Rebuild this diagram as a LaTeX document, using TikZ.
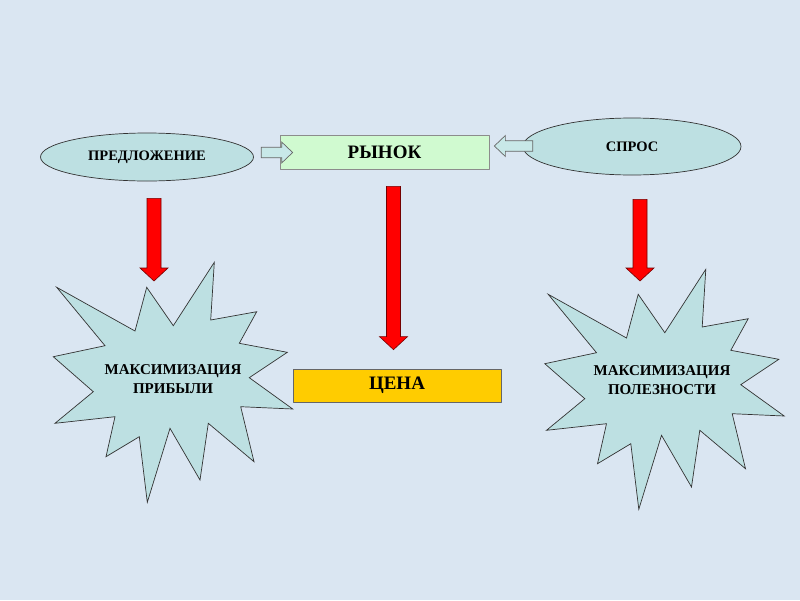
\documentclass[tikz,border=0pt]{standalone}
\usepackage{fontspec}
\setmainfont{Liberation Serif}
\usetikzlibrary{positioning,calc,shapes.geometric}

\definecolor{bgblue}{RGB}{218,230,242}
\definecolor{tealfill}{RGB}{189,224,226}
\definecolor{mintfill}{RGB}{208,250,208}
\definecolor{goldfill}{RGB}{255,204,0}
\definecolor{arrowfill}{RGB}{200,232,232}

\tikzset{
  oval/.style={ellipse, draw=black!80, fill=tealfill, inner sep=0pt, line width=0.7pt,
    font=\bfseries\fontsize{14.5}{16}\selectfont},
  box/.style={rectangle, draw=black!45, inner sep=0pt, line width=0.7pt,
    font=\bfseries\fontsize{19}{22}\selectfont},
  burst/.style={draw=black!80, fill=tealfill, line width=0.7pt, line join=miter},
  bursttext/.style={align=center, font=\bfseries\fontsize{15}{18.5}\selectfont},
  redarrow/.style={draw=red!45!black, fill=red, line width=0.6pt, line join=miter},
  hollowarrow/.style={draw=black!60, fill=arrowfill, line width=0.7pt, line join=miter},
}

% explosion outline, relative to its middle
\newcommand{\burstpath}{(-116.3,-91.7) -- (-38,-48) -- (-26.3,-91.7) -- (0.3,-53.3)
  -- (41.3,-116.7) -- (37.7,-59) -- (83.7,-67.3) -- (66.3,-35.7) -- (114.3,-26.7)
  -- (76.3,-1.3) -- (119.7,30) -- (67.7,27.7) -- (81,82.7) -- (35.3,44.3) -- (27,101)
  -- (-3,49.3) -- (-25.7,123.3) -- (-33.7,57.7) -- (-67,77.7) -- (-58,37.7)
  -- (-118,44.3) -- (-79.7,12.7) -- (-119.7,-22.3) -- (-68,-33.3) -- cycle}

% vertical block arrow: style, tail, tip
\newcommand{\vblock}[3]{%
  \draw[#1] let \p1=(#2), \p2=(#3) in
    (\x1-7pt,\y1) -- (\x1-7pt,\y2+13pt) -- (\x1-14pt,\y2+13pt) -- (\x1,\y2)
    -- (\x1+14pt,\y2+13pt) -- (\x1+7pt,\y2+13pt) -- (\x1+7pt,\y1) -- cycle;}

% horizontal block arrow: style, tail, tip
\newcommand{\hblock}[3]{%
  \draw[#1] let \p1=(#2), \p2=(#3), \p3=($(#3)!11pt!(#2)$) in
    (\x1,\y2+5.25pt) -- (\x3,\y2+5.25pt) -- (\x3,\y2+10.5pt) -- (\x2,\y2)
    -- (\x3,\y2-10.5pt) -- (\x3,\y2-5.25pt) -- (\x1,\y2-5.25pt) -- cycle;}

\begin{document}
\begin{tikzpicture}[x=1pt, y=-1pt, line cap=round, line join=round]
  \fill[bgblue] (0,0) rectangle (800,600);

  % top row
  \node[oval, minimum width=213, minimum height=48] (pred) at (147,157) {ПРЕДЛОЖЕНИЕ};
  \node[box, fill=mintfill, minimum width=209, minimum height=34] (market) at (384.5,152) {РЫНОК};
  \node[oval, minimum width=218, minimum height=57] (spros) at (632,146.5) {СПРОС};

  \hblock{hollowarrow}{$(market.west)+(-18.5,0.5)$}{$(market.west)+(13,0.5)$}
  \hblock{hollowarrow}{$(spros.west)+(10,0)$}{$(market.east)+(5,-6)$}

  % outcomes
  \draw[burst, shift={(173,379)}] \burstpath;
  \node[bursttext] (profit) at (173,379) {МАКСИМИЗАЦИЯ\\ПРИБЫЛИ};

  \node[box, fill=goldfill, draw=black!60, minimum width=208, minimum height=33] (price) at (397,385.5) {ЦЕНА};

  \draw[burst, shift={(664.5,386)}] \burstpath;
  \node[bursttext] (utility) at (662,380) {МАКСИМИЗАЦИЯ\\ПОЛЕЗНОСТИ};

  % red arrows
  \coordinate (ptip) at (154,281);
  \coordinate (utip) at (640,281);
  \vblock{redarrow}{$(pred.south)+(7,17)$}{ptip}
  \vblock{redarrow}{$(market.south)+(9,17)$}{$(price.north)+(-3.5,-19)$}
  \vblock{redarrow}{$(spros.south)+(8,24)$}{utip}
\end{tikzpicture}
\end{document}
